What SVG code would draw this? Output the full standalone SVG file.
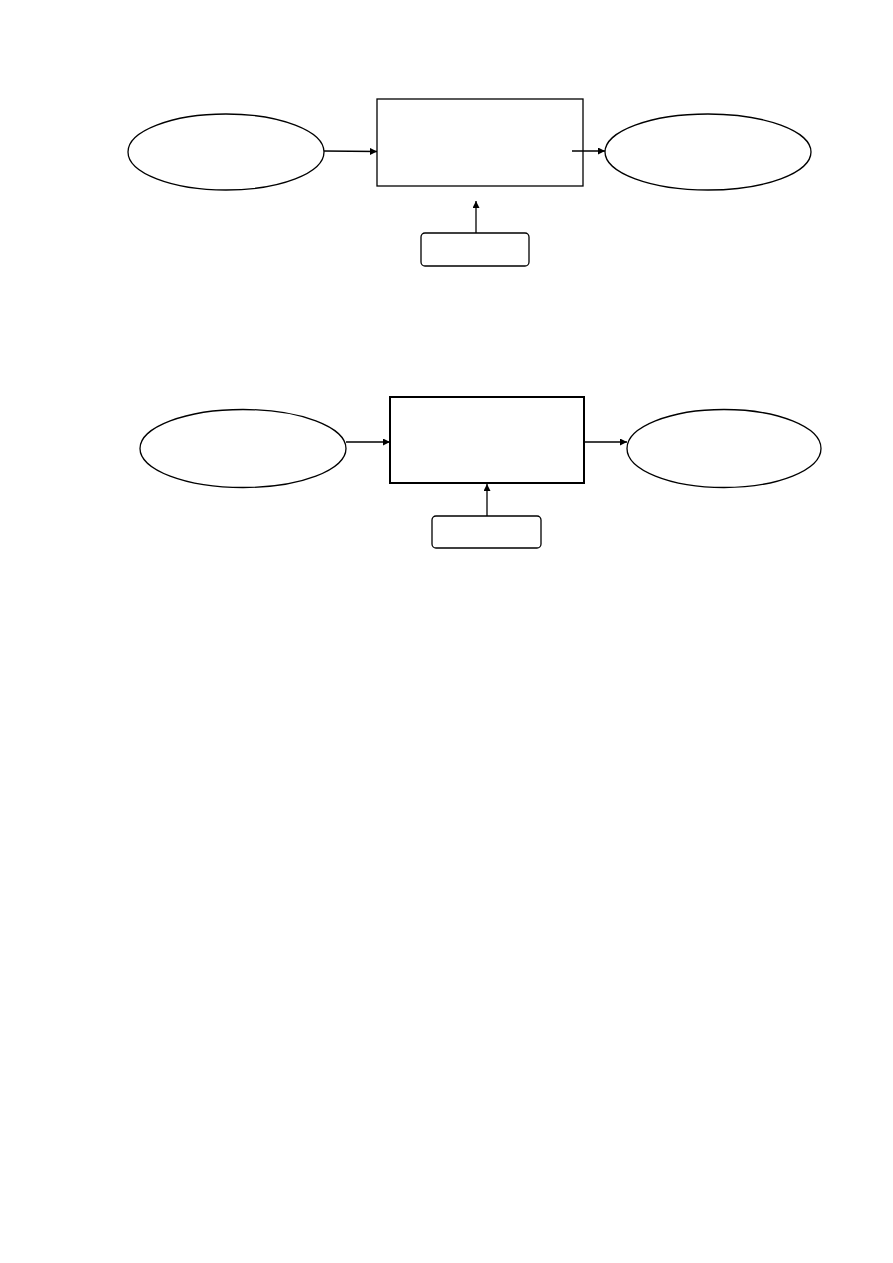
<svg xmlns="http://www.w3.org/2000/svg" width="893" height="1263" viewBox="0 0 893 1263">
<style>
.shape{fill:#fff;stroke:#000;stroke-width:1.3}
.thick{fill:#fff;stroke:#000;stroke-width:2}
.conn{fill:none;stroke:#000;stroke-width:1.3;marker-end:url(#arr)}
</style>
<defs>
<marker id="arr" viewBox="0 0 10 10" refX="10" refY="5" markerWidth="7" markerHeight="7" markerUnits="userSpaceOnUse" orient="auto">
<path d="M0,0 L10,5 L0,10 z" fill="#000"/>
</marker>
</defs>
<rect width="893" height="1263" fill="#fff"/>
<g id="top-left-ellipse"><ellipse class="shape" cx="226" cy="152" rx="98" ry="38"/></g>
<g id="top-rect"><rect class="shape" x="377" y="99" width="206" height="87"/></g>
<g id="top-right-ellipse"><ellipse class="shape" cx="708" cy="152" rx="103" ry="38"/></g>
<g id="top-box"><rect class="shape" x="421" y="233" width="108" height="33" rx="4"/></g>
<g id="bottom-left-ellipse"><ellipse class="shape" cx="243" cy="448.5" rx="103" ry="39"/></g>
<g id="bottom-rect"><rect class="thick" x="390" y="397" width="194" height="86"/></g>
<g id="bottom-right-ellipse"><ellipse class="shape" cx="724" cy="448.5" rx="97" ry="39"/></g>
<g id="bottom-box"><rect class="shape" x="432" y="516" width="109" height="32" rx="4"/></g>
<g id="connectors">
<line class="conn" x1="324" y1="151" x2="377" y2="151.5"/>
<line class="conn" x1="572" y1="151" x2="605" y2="151"/>
<line class="conn" x1="476" y1="233" x2="476" y2="201"/>
<line class="conn" x1="346" y1="442" x2="390" y2="442"/>
<line class="conn" x1="585" y1="442" x2="627" y2="442"/>
<line class="conn" x1="487" y1="516" x2="487" y2="484"/>
</g>
</svg>
